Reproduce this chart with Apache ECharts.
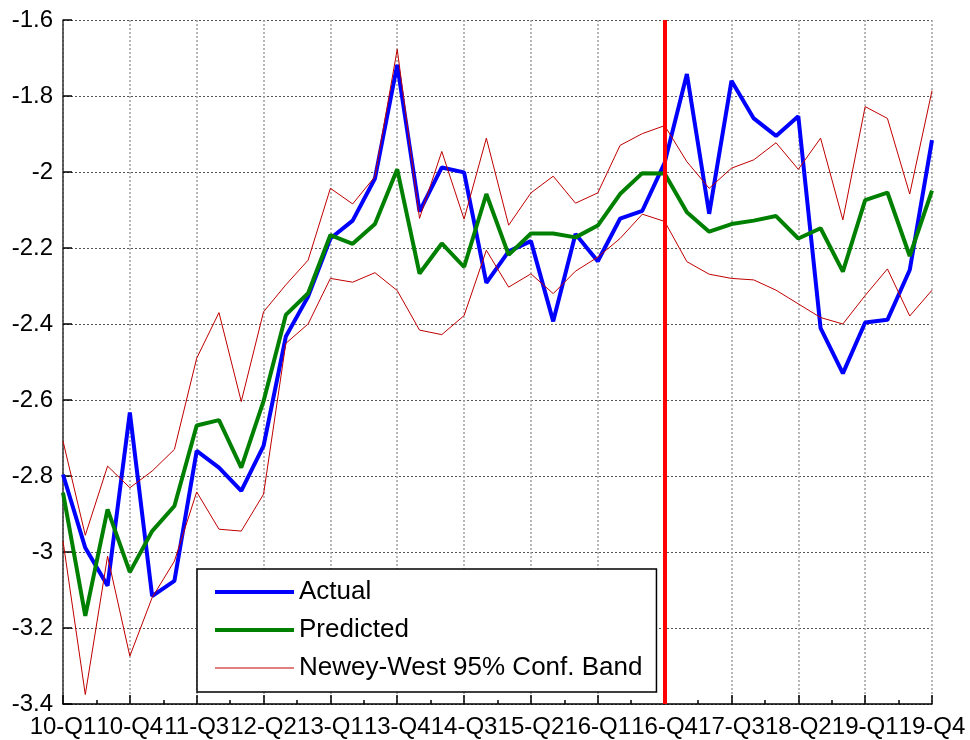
<!DOCTYPE html>
<html>
<head>
<meta charset="utf-8">
<script src="https://cdn.jsdelivr.net/npm/echarts@6/dist/echarts.min.js"></script>
<style>
html,body{margin:0;padding:0;background:#fff;}
#chart{width:970px;height:740px;}
</style>
</head>
<body>
<div id="chart"></div>
<script>
var quarters = ["10-Q1","10-Q2","10-Q3","10-Q4","11-Q1","11-Q2","11-Q3","11-Q4",
  "12-Q1","12-Q2","12-Q3","12-Q4","13-Q1","13-Q2","13-Q3","13-Q4",
  "14-Q1","14-Q2","14-Q3","14-Q4","15-Q1","15-Q2","15-Q3","15-Q4",
  "16-Q1","16-Q2","16-Q3","16-Q4","17-Q1","17-Q2","17-Q3","17-Q4",
  "18-Q1","18-Q2","18-Q3","18-Q4","19-Q1","19-Q2","19-Q3","19-Q4"];

var actual = [-2.796,-2.989,-3.089,-2.633,-3.116,-3.076,-2.734,-2.778,-2.839,-2.721,
  -2.433,-2.328,-2.175,-2.128,-2.017,-1.718,-2.104,-1.988,-2.001,-2.292,
  -2.209,-2.182,-2.393,-2.163,-2.235,-2.123,-2.102,-1.976,-1.742,-2.110,
  -1.760,-1.859,-1.905,-1.853,-2.411,-2.530,-2.396,-2.389,-2.258,-1.916];

var predicted = [-2.844,-3.168,-2.888,-3.053,-2.945,-2.879,-2.667,-2.653,-2.778,-2.603,
  -2.376,-2.319,-2.166,-2.189,-2.137,-1.993,-2.267,-2.188,-2.250,-2.058,
  -2.218,-2.162,-2.162,-2.172,-2.141,-2.058,-2.003,-2.004,-2.106,-2.157,
  -2.137,-2.128,-2.116,-2.175,-2.148,-2.262,-2.074,-2.054,-2.221,-2.049];

var upperBand = [-2.708,-2.956,-2.774,-2.831,-2.787,-2.730,-2.490,-2.370,-2.604,-2.368,
  -2.297,-2.232,-2.043,-2.084,-2.012,-1.677,-2.122,-1.946,-2.124,-1.911,
  -2.140,-2.055,-2.011,-2.082,-2.055,-1.930,-1.899,-1.878,-1.973,-2.043,
  -1.990,-1.968,-1.923,-1.993,-1.911,-2.126,-1.828,-1.859,-2.058,-1.786];

var lowerBand = [-2.971,-3.375,-3.011,-3.274,-3.120,-3.024,-2.842,-2.940,-2.945,-2.848,
  -2.451,-2.400,-2.280,-2.290,-2.265,-2.312,-2.416,-2.428,-2.378,-2.206,
  -2.303,-2.268,-2.320,-2.261,-2.224,-2.175,-2.111,-2.130,-2.236,-2.269,
  -2.280,-2.284,-2.311,-2.347,-2.383,-2.400,-2.325,-2.255,-2.379,-2.311];

var forecastStart = "16-Q4";
var bandName = "Newey-West 95% Conf. Band";

function pairs(arr){ return arr.map(function(v,i){ return [i, v]; }); }

var FONT = "'Liberation Sans', Arial, Helvetica, sans-serif";
var chart = echarts.init(document.getElementById('chart'), null, {renderer:'canvas'});

chart.setOption({
  animation: false,
  backgroundColor: '#ffffff',
  grid: { left: 63, right: 38, top: 20, bottom: 36, containLabel: false },
  xAxis: {
    type: 'value',
    min: 0, max: quarters.length - 1, interval: 3,
    axisLine: { show: true, onZero: false, lineStyle: { color: '#000', width: 1.5 } },
    axisTick: { show: true, inside: true, length: 9, lineStyle: { color: '#000', width: 1.5 } },
    minorTick: { show: true, splitNumber: 2, length: 4, lineStyle: { color: '#000', width: 1.5 } },
    splitLine: { show: true, lineStyle: { color: '#a0a0a0', width: 1.5, type: [2, 2] } },
    axisLabel: {
      color: '#000', fontSize: 24, fontFamily: FONT, margin: 11,
      showMinLabel: true, showMaxLabel: true, hideOverlap: false,
      formatter: function(v){ return quarters[Math.round(v)] || ''; }
    }
  },
  yAxis: {
    type: 'value',
    min: -3.4, max: -1.6, interval: 0.2,
    axisLine: { show: true, onZero: false, lineStyle: { color: '#333', width: 1.5 } },
    axisTick: { show: true, inside: true, length: 9, lineStyle: { color: '#000', width: 1.5 } },
    splitLine: { show: true, lineStyle: { color: '#555', width: 1, type: [2, 2] } },
    axisLabel: {
      color: '#000', fontSize: 24, fontFamily: FONT, margin: 10,
      padding: [4, 0, 0, 0],
      showMinLabel: true, showMaxLabel: true,
      formatter: function(v){ return String(+v.toFixed(1)); }
    }
  },
  legend: {
    show: true,
    orient: 'vertical',
    left: 197, top: 569,
    backgroundColor: '#fff',
    borderColor: '#000', borderWidth: 1.5, borderRadius: 0,
    padding: [8, 14, 9, 16],
    itemWidth: 79, itemHeight: 14, itemGap: 8, itemTextGap: 10,
    textStyle: { fontSize: 26, fontFamily: FONT, color: '#000', lineHeight: 30 },
    selectedMode: false,
    data: [
      { name: 'Actual', lineStyle: { width: 4 }, itemStyle: { opacity: 0 } },
      { name: 'Predicted', lineStyle: { width: 4 }, itemStyle: { opacity: 0 } },
      { name: bandName, lineStyle: { width: 1 }, itemStyle: { opacity: 0 } }
    ]
  },
  series: [
    {
      name: 'Actual', type: 'line', data: pairs(actual),
      showSymbol: false, symbol: 'none', z: 2,
      lineStyle: { color: '#0000ff', width: 4 }, itemStyle: { color: '#0000ff' }
    },
    {
      name: 'Predicted', type: 'line', data: pairs(predicted),
      showSymbol: false, symbol: 'none', z: 3,
      lineStyle: { color: '#008000', width: 4 }, itemStyle: { color: '#008000' }
    },
    {
      name: bandName, type: 'line', data: pairs(upperBand),
      showSymbol: false, symbol: 'none', z: 4,
      lineStyle: { color: '#c00000', width: 1 }, itemStyle: { color: '#c00000' }
    },
    {
      name: bandName, type: 'line', data: pairs(lowerBand),
      showSymbol: false, symbol: 'none', z: 4,
      lineStyle: { color: '#c00000', width: 1 }, itemStyle: { color: '#c00000' },
      markLine: {
        silent: true, symbol: 'none', z: 10,
        label: { show: false },
        lineStyle: { color: '#ff0000', width: 4, type: 'solid' },
        data: [ { xAxis: quarters.indexOf(forecastStart) } ]
      }
    }
  ]
});
</script>
</body>
</html>
